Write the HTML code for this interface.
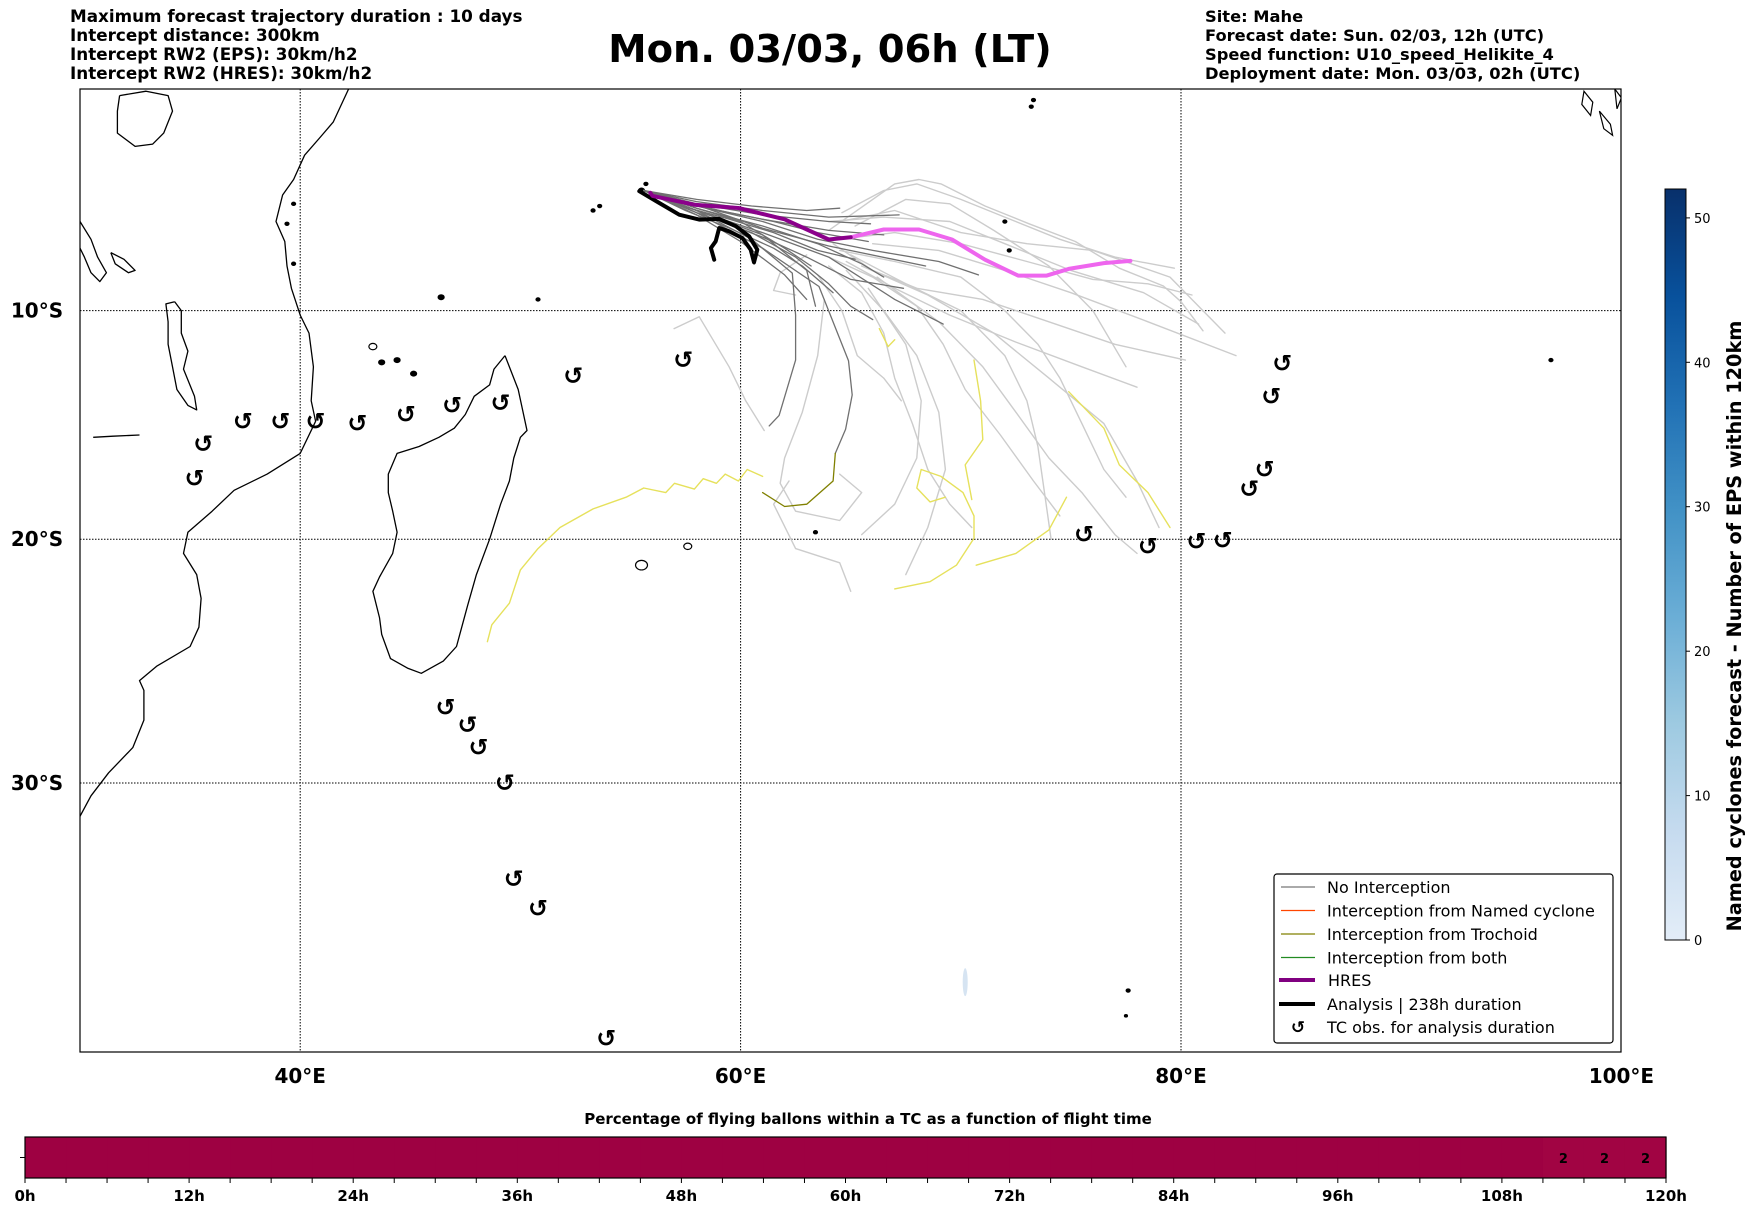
<!DOCTYPE html>
<html><head><meta charset="utf-8">
<style>
html,body{margin:0;padding:0;background:#fff;}
body{width:1752px;height:1213px;overflow:hidden;position:relative;font-family:"DejaVu Sans","Liberation Sans",sans-serif;}
svg{position:absolute;left:0;top:0;}
</style></head>
<body>
<svg id="chart" width="1752" height="1213" viewBox="0 0 1752 1213" xmlns="http://www.w3.org/2000/svg" font-family="DejaVu Sans, Liberation Sans, sans-serif">
  <defs>
    <clipPath id="mapclip"><rect x="80" y="89" width="1541" height="963"/></clipPath>
    <linearGradient id="bluesgrad" x1="0" y1="1" x2="0" y2="0">
      <stop offset="0" stop-color="#e3edf8"/>
      <stop offset="0.143" stop-color="#c6dbef"/>
      <stop offset="0.286" stop-color="#9ecae1"/>
      <stop offset="0.429" stop-color="#6baed6"/>
      <stop offset="0.571" stop-color="#4292c6"/>
      <stop offset="0.714" stop-color="#2171b5"/>
      <stop offset="0.857" stop-color="#08519c"/>
      <stop offset="1" stop-color="#08306b"/>
    </linearGradient>
  </defs>
  <g font-size="16.8" font-weight="bold" fill="#000">
    <text x="70" y="22">Maximum forecast trajectory duration : 10 days</text>
    <text x="70" y="41">Intercept distance: 300km</text>
    <text x="70" y="60">Intercept RW2 (EPS):  30km/h2</text>
    <text x="70" y="79">Intercept RW2 (HRES): 30km/h2</text>
  </g>
  <text x="830" y="62" font-size="38.5" font-weight="bold" text-anchor="middle">Mon. 03/03, 06h (LT)</text>
  <g font-size="16.3" font-weight="bold" fill="#000">
    <text x="1205" y="22">Site: Mahe</text>
    <text x="1205" y="41">Forecast date: Sun. 02/03, 12h (UTC)</text>
    <text x="1205" y="60">Speed function: U10_speed_Helikite_4</text>
    <text x="1205" y="79">Deployment date: Mon. 03/03, 02h (UTC)</text>
  </g>
  <g id="mapg"></g>
  <g>
    <rect x="1665" y="189" width="21" height="751" fill="url(#bluesgrad)" stroke="#000" stroke-width="1"/>
    <g stroke="#000" stroke-width="1">
      <line x1="1686" x2="1690" y1="940" y2="940"/>
      <line x1="1686" x2="1690" y1="795.6" y2="795.6"/>
      <line x1="1686" x2="1690" y1="651.2" y2="651.2"/>
      <line x1="1686" x2="1690" y1="506.7" y2="506.7"/>
      <line x1="1686" x2="1690" y1="362.3" y2="362.3"/>
      <line x1="1686" x2="1690" y1="217.9" y2="217.9"/>
    </g>
    <g font-size="13" fill="#000">
      <text x="1694" y="945">0</text>
      <text x="1694" y="800.6">10</text>
      <text x="1694" y="656.2">20</text>
      <text x="1694" y="511.7">30</text>
      <text x="1694" y="367.3">40</text>
      <text x="1694" y="222.9">50</text>
    </g>
  </g>
  <g id="tbarg"></g>
  <g>
    <rect x="1274" y="874" width="339" height="169" rx="3" fill="#fff" stroke="#000" stroke-width="1.2"/>
    <g font-size="16" fill="#000">
      <line x1="1281" y1="887" x2="1315" y2="887" stroke="#777" stroke-width="1.2"/>
      <text x="1327" y="893">No Interception</text>
      <line x1="1281" y1="910.5" x2="1315" y2="910.5" stroke="#ff4500" stroke-width="1.2"/>
      <text x="1327" y="916.5">Interception from Named cyclone</text>
      <line x1="1281" y1="934" x2="1315" y2="934" stroke="#808000" stroke-width="1.2"/>
      <text x="1327" y="940">Interception from Trochoid</text>
      <line x1="1281" y1="957.5" x2="1315" y2="957.5" stroke="#228b22" stroke-width="1.2"/>
      <text x="1327" y="963.5">Interception from both</text>
      <line x1="1279" y1="980" x2="1315" y2="980" stroke="#800080" stroke-width="4"/>
      <text x="1328" y="986">HRES</text>
      <line x1="1279" y1="1004" x2="1315" y2="1004" stroke="#000" stroke-width="4"/>
      <text x="1327" y="1010">Analysis | 238h duration</text>
      <text x="1298" y="1033" font-size="17" font-weight="bold" text-anchor="middle">↺</text>
      <text x="1327" y="1033">TC obs. for analysis duration</text>
    </g>
  </g>
  <text transform="translate(1741,626) rotate(-90)" font-size="19.3" font-weight="bold" text-anchor="middle">Named cyclones forecast - Number of EPS within 120km</text>
  <text x="868" y="1124" font-size="15" font-weight="bold" text-anchor="middle">Percentage of flying ballons within a TC as a function of flight time</text>
</svg>
<script>
// ---------- data ----------
var lonTicks = [40, 60, 80, 100];
var latTicks = [10, 20, 30];
var africaCoast = [[42.2,0],[41.5,1.5],[40.9,2.2],[40.2,3.0],[39.7,4.1],[39.2,4.8],[38.9,6.0],[39.3,6.9],[39.4,8.0],[39.6,9.0],[40.0,10.2],[40.4,11.0],[40.6,12.5],[40.5,14.0],[40.7,14.9],[40.0,16.3],[38.5,17.2],[37.0,17.9],[36.0,18.8],[34.9,19.7],[34.7,20.6],[35.3,21.5],[35.5,22.5],[35.4,23.7],[35.0,24.5],[33.5,25.3],[32.7,25.9],[32.9,26.3],[32.9,27.5],[32.4,28.6],[31.3,29.6],[30.5,30.5],[30,31.3]];
var madagascar = [[49.3,12.0],[49.9,13.5],[50.3,15.3],[50.0,15.6],[49.7,16.5],[49.5,17.5],[49.1,18.5],[48.6,20.0],[48.0,21.5],[47.6,22.8],[47.1,24.5],[46.5,25.1],[45.5,25.6],[44.9,25.4],[44.1,25.0],[43.7,24.0],[43.6,23.3],[43.3,22.2],[43.6,21.6],[44.2,20.6],[44.4,19.7],[44.2,18.8],[44.0,18.0],[44.0,17.2],[44.4,16.3],[45.4,16.0],[46.3,15.6],[47.0,15.2],[47.5,14.6],[47.9,13.8],[48.6,13.3],[48.8,12.6],[49.3,12.0]];
var lakeMalawi = [[34.3,9.6],[34.6,10.0],[34.6,11.0],[34.9,11.8],[34.7,12.6],[35.2,13.8],[35.3,14.4],[34.9,14.2],[34.4,13.5],[34.2,12.5],[34.0,11.5],[34.0,10.5],[33.9,9.7],[34.3,9.6]];
var lakeTanganyika = [[30,6.0],[30.5,6.8],[30.8,7.6],[31.2,8.3],[30.9,8.7],[30.5,8.3],[30.2,7.6],[30,7.2]];
var lakeVictoria = [[31.8,0.3],[33.0,0.1],[34.0,0.3],[34.2,1.0],[33.8,2.0],[33.3,2.5],[32.5,2.6],[31.7,2.0],[31.7,1.0],[31.8,0.3]];
var lakeRukwa = [[31.4,7.4],[32.0,7.7],[32.5,8.2],[32.2,8.3],[31.6,7.9],[31.4,7.4]];
var cahoraBassa = [[30.6,15.6],[31.5,15.55],[32.7,15.5]];
var islands = [[43.3,11.6,4],[43.7,12.3,3],[44.4,12.2,3],[45.15,12.8,3],[55.5,4.6,3],[55.7,4.3,2],[53.3,5.5,2],[53.6,5.3,2],[50.8,9.5,2],[46.4,9.4,3],[57.6,20.3,4],[55.5,21.1,6],[63.4,19.7,2],[72.0,6.0,2],[72.2,7.3,2],[73.2,0.8,2],[73.3,0.5,2],[96.8,12.2,2],[77.6,37.8,2],[77.5,38.7,1.5],[39.4,6.1,2],[39.7,5.2,2],[39.7,7.9,2]];
var sumatraIslands = [[[98.3,0.1],[98.7,0.6],[98.6,1.2],[98.2,0.7]],[[99.0,1.0],[99.5,1.6],[99.6,2.1],[99.2,1.8]],[[99.7,0.0],[100,0.4],[99.8,0.9]]];
var tcLon = [35.2,35.6,37.4,39.1,40.7,42.6,44.8,46.9,49.1,52.4,57.4,46.6,47.6,48.1,49.3,49.7,50.8,53.9,75.6,78.5,80.7,81.9,83.1,83.8,84.1,84.6];
var tcLat = [17.4,15.9,14.9,14.9,14.9,15.0,14.6,14.2,14.1,12.9,12.2,27.0,27.7,28.6,30.0,33.7,34.8,39.5,19.8,20.3,20.1,20.05,17.85,17.0,13.8,12.35];
var hresTrack = [[55.9,4.7],[56.0,4.84],[57.9,5.24],[59.9,5.39],[62.0,5.9],[64.0,6.81],[65.0,6.71]];
var hresTrackLate = [[65.0,6.71],[66.5,6.36],[68.1,6.36],[69.6,6.81],[71.1,7.72],[72.6,8.43],[73.9,8.43],[74.9,8.13],[76.5,7.87],[77.7,7.77]];
var analysisTrack = [[55.4,4.63],[56.3,5.16],[57.21,5.69],[58.12,5.91],[59.03,5.88],[59.78,6.21],[60.39,6.67],[60.76,7.27],[60.61,7.84],[60.46,7.27],[60.08,6.74],[59.48,6.44],[59.03,6.29],[58.87,6.89],[58.65,7.19],[58.8,7.72]];
var darkTracks = [
 [[55.6,4.6],[58,5.1],[61,5.5],[64,5.8],[67.2,5.7]],
 [[55.6,4.6],[58,5.3],[61,5.9],[64,6.4],[66.5,6.6]],
 [[55.6,4.6],[58,5.4],[61,6.2],[63.5,7.0],[65.5,7.9],[66.5,8.5]],
 [[55.6,4.6],[58,5.6],[60.5,6.5],[62.5,7.6],[64,8.8],[65,9.8],[66,10.4]],
 [[55.6,4.6],[58,5.5],[61,6.6],[63,8.2],[63.4,9.8]],
 [[55.6,4.6],[58,5.3],[61,6.0],[63.5,6.8],[66,7.3],[69,7.8],[70.8,8.4]],
 [[55.6,4.6],[58,5.5],[60.5,6.8],[62.35,8.32],[62.5,10.2],[62.5,12.2],[61.75,14.64],[61.3,15.1]],
 [[55.6,4.6],[58,5.6],[61,7.2],[63.56,8.92],[64.9,12.23],[65.07,13.74],[64.77,15.25],[64.3,16.3]],
 [[55.6,4.6],[58,5.5],[61,6.5],[64,7.6],[67,9.5],[69.2,10.6]],
 [[55.6,4.6],[58,5.2],[61,5.7],[64,6.0],[65.9,6.1]],
 [[55.6,4.6],[58,5.6],[61,6.7],[63,7.6],[65,8.6],[67.4,9.0]],
 [[55.6,4.6],[58,5.4],[60,6.0],[62,7.2],[63.2,8.0]],
 [[55.6,4.6],[58,5.0],[60.5,5.3],[63,5.5],[64.5,5.4]],
 [[55.6,4.6],[58,5.7],[60,6.9],[62,8.4],[63,9.5]],
 [[55.6,4.6],[58,5.25],[61,6.3],[64,7.1],[68.4,8.0]],
 [[55.6,4.6],[57.5,5.35],[59.5,5.9],[61.5,6.5],[63.5,7.3],[65.2,7.7]],
 [[55.6,4.6],[57.5,5.15],[59.5,5.6],[61.5,6.0],[63.5,6.5],[65.8,6.9]],
 [[55.6,4.6],[57.5,5.5],[59.5,6.3],[61.5,7.2],[62.8,8.0],[64.2,9.2]]
];
var olivePath = [[64.3,16.3],[64.2,17.5],[63.0,18.5],[62.0,18.6],[61.0,18.0]];
var lightTracks = [
 [[64.0,6.4],[67.0,4.3],[68.1,4.1],[69.1,4.3],[71.1,5.3],[73.1,6.1],[75.2,6.9],[77.2,8.1],[79.2,8.9],[80.0,9.6],[81.0,10.9]],
 [[64.5,6.8],[67,6.5],[70,7.0],[73,7.8],[76,8.6],[78.5,8.8],[80.5,9.3]],
 [[64.5,7.3],[67,7.8],[70,8.5],[72,10],[73.5,11.5],[74.5,13],[75.5,15],[76.5,17],[77.5,18.2]],
 [[64,7.6],[66,8.5],[68,9.8],[69.2,11.5],[70.2,13.5],[71.8,15.5],[73.3,17.5],[74.5,19]],
 [[64,8],[65.5,9.2],[66.5,11],[67,13],[67.8,15],[68.5,17],[69.5,18.5],[70.5,19.5]],
 [[63.5,8.4],[64.6,10],[65.3,12],[66.5,13],[67.3,14.0]],
 [[62.2,17.5],[61.5,18.5],[62.5,20.4],[64.5,21.0],[65,22.2]],
 [[56.98,10.8],[58.12,10.27],[59.48,12.5],[60.23,14.0],[61.07,15.3]],
 [[64.5,6.0],[67,5.5],[70,6.5],[73,7.0],[76,7.3],[79.5,8.5],[82,11]],
 [[64.2,7.0],[66,8.2],[68,9.0],[71,9.5],[74,10.5],[77,11.5],[80.2,12.2]],
 [[65,7.5],[67.5,8.8],[70,10],[72,12],[73,14],[73.5,16],[73.8,18],[74.1,20.0]],
 [[64.8,8.2],[66.5,10],[68,12],[69,14.5],[69.3,17],[68.5,19.5],[67.5,21.5]],
 [[63,7.5],[61.8,8.3],[61.5,9.1],[62.5,9.3]],
 [[66,7.0],[69,7.3],[72,8.2],[75,9.2],[78.5,10.5],[82.5,12.0]],
 [[65.5,8.0],[68.5,9.3],[71.5,11],[74,13],[76.5,15],[78,17.5],[79,19.5]],
 [[63.8,9.5],[63.5,12.0],[62.8,14.5],[62,16.5],[61.8,17.6],[62.5,18.8],[64.5,19.2],[65.5,18.0],[64.5,17.2]],
 [[64.6,5.6],[66.5,4.6],[68,4.3],[70,5.0],[72,5.8],[74.5,6.8],[77,7.6],[79.7,8.1]],
 [[66.2,8.5],[69,10.5],[71,12.5],[72.5,14.5],[74.0,16.5],[75.5,18],[77,19.8],[78.0,20.6]],
 [[65.8,9],[67.5,11.5],[68.2,14],[68.0,16.5],[67.0,18.5],[65.5,19.8]],
 [[64,6.0],[66.5,5.8],[69.5,6.0],[72,7.0],[75,8.2],[78.3,9.2],[80.8,10.6]],
 [[65.2,6.2],[67.5,5.0],[69.5,5.2],[71.5,6.4],[74,8.0],[76,10.0],[77.5,12.5]],
 [[64.8,7.8],[67,9.0],[69.5,10.2],[72.5,11.4],[75.5,12.5],[78,13.4]]
];
var yellowTracks = [
 [[48.5,24.3],[48.7,23.6],[49.5,22.7],[50.0,21.3],[50.8,20.4],[51.8,19.5],[53.3,18.7],[54.8,18.2],[55.6,17.8],[56.6,18.0],[57.0,17.6],[57.9,17.85],[58.3,17.4],[58.9,17.6],[59.3,17.2],[59.9,17.5],[60.3,17.0],[61.0,17.3]],
 [[67.0,22.1],[68.6,21.8],[69.8,21.1],[70.6,19.96],[70.6,19.0],[70.1,18.0],[69.1,17.3],[68.2,17.0],[68.0,17.8],[68.6,18.4],[69.3,18.2]],
 [[70.6,12.2],[70.9,14],[71.0,15.7],[70.2,16.8],[70.5,18.3]],
 [[74.9,13.6],[76.5,15.2],[77.2,16.8],[78.5,18.0],[79.5,19.5]],
 [[70.7,21.1],[72.5,20.6],[74.0,19.6],[74.8,18.2]],
 [[66.3,10.8],[66.6,11.4],[66.7,11.6],[67.0,11.3]]
];
var hourTicks = [0,12,24,36,48,60,72,84,96,108,120];
var binStarts = [0,3,6,9,12,15,18,21,24,27,30,33,36,39,42,45,48,51,54,57,60,63,66,69,72,75,78,81,84,87,90,93,96,99,102,105,108,111,114,117];
var binPct = [0,0,0,0,0,0,0,0,0,0,0,0,0,0,0,0,0,0,0,0,0,0,0,0,0,0,0,0,0,0,0,0,0,0,0,0,0,2,2,2];

var SVGNS='http://www.w3.org/2000/svg';
var PX=22.02;
function X(lon){return 80+(lon-30)*PX;}
function merc(lat){return Math.log(Math.tan(Math.PI/4+lat*Math.PI/360));}
function Y(lat){return 89+merc(lat)*1263.4;}
function mk(tag,attrs,parent){var e=document.createElementNS(SVGNS,tag);for(var k in attrs){e.setAttribute(k,String(attrs[k]));}parent.appendChild(e);return e;}
function pts(arr){return arr.map(function(p){return X(p[0]).toFixed(1)+','+Y(p[1]).toFixed(1);}).join(' ');}

// ---------- map ----------
try{
var mapG=document.getElementById('mapg');
var inner=mk('g',{'clip-path':'url(#mapclip)'},mapG);


lonTicks.forEach(function(l){var g=mk('line',{x1:X(l),x2:X(l),y1:89,y2:1052,stroke:'#000','stroke-width':1,'stroke-dasharray':'1.5,1.5'},inner);

});
latTicks.forEach(function(l){var g=mk('line',{x1:80,x2:1621,y1:Y(l),y2:Y(l),stroke:'#000','stroke-width':1,'stroke-dasharray':'1.5,1.5'},inner);

});
[[africaCoast,'africa-coastline'],[madagascar,'madagascar-coastline'],[lakeMalawi,'lake-malawi'],[lakeTanganyika,'lake-tanganyika'],[lakeVictoria,'lake-victoria'],[lakeRukwa,'lake-rukwa'],[cahoraBassa,'lake-cahora-bassa']].forEach(function(o){
 var p=mk('polyline',{points:pts(o[0]),fill:'none',stroke:'#000','stroke-width':1.3,'stroke-linejoin':'round'},inner);
 
 
});
sumatraIslands.forEach(function(a){var p=mk('polygon',{points:pts(a),fill:'none',stroke:'#000','stroke-width':1.2},inner);

});
islands.forEach(function(i){var c=mk('ellipse',{cx:X(i[0]),cy:Y(i[1]),rx:i[2],ry:i[2]*0.8,fill:i[2]>=4?'none':'#000',stroke:'#000','stroke-width':1.2},inner);

});
var blob=mk('ellipse',{cx:X(70.2),cy:Y(37.5),rx:2.5,ry:14,fill:'#d6e4f2'},inner);


function track(a,color,w,name){var p=mk('polyline',{points:pts(a),fill:'none',stroke:color,'stroke-width':w,'stroke-linejoin':'round','stroke-linecap':'round'},inner);

}
lightTracks.forEach(function(t){track(t,'#cccccc',1.4,'eps-trajectory-late');});
yellowTracks.forEach(function(t){track(t,'#e6e15c',1.4,'eps-trajectory-after-interception');});
darkTracks.forEach(function(t){track(t,'#707070',1.3,'eps-trajectory');});
track(olivePath,'#808000',1.3,'trochoid-interception-trajectory');
track(analysisTrack,'#000',4,'analysis-trajectory');
track(hresTrackLate,'#ee66ee',4,'hres-trajectory-late');
track(hresTrack,'#8b008b',4,'hres-trajectory');
tcLon.forEach(function(lon,i){var t=mk('text',{x:X(lon),y:Y(tcLat[i])+8,'font-size':24,'font-weight':'bold','text-anchor':'middle'},inner);
t.textContent='↺';

});
var fr=mk('rect',{x:80,y:89,width:1541,height:963,fill:'none',stroke:'#000','stroke-width':1.2},mapG);


lonTicks.forEach(function(l){var t=mk('text',{x:X(l),y:1083,'font-size':20,'font-weight':'bold','text-anchor':'middle'},mapG);
t.textContent=l+'°E';

});
latTicks.forEach(function(l){var t=mk('text',{x:37,y:Y(l)+7,'font-size':20,'font-weight':'bold','text-anchor':'middle'},mapG);
t.textContent=l+'°S';

});
}catch(e){console.log(e);}

// ---------- time bar ----------
try{
var tbG=document.getElementById('tbarg');
var tbX0=25,tbX1=1666,tbY=1137,tbH=41;
function tX(h){return tbX0+(h/120)*(tbX1-tbX0);}
function spectral(p){var f=Math.min(p/40,1);var a=[158,1,66],b=[213,62,79];
 return 'rgb('+Math.round(a[0]+(b[0]-a[0])*f)+','+Math.round(a[1]+(b[1]-a[1])*f)+','+Math.round(a[2]+(b[2]-a[2])*f)+')';}
binStarts.forEach(function(h,i){var r=mk('rect',{x:tX(h),y:tbY,width:tX(h+3)-tX(h)+0.6,height:tbH,fill:spectral(binPct[i])},tbG);


if(binPct[i]>0){var t=mk('text',{x:(tX(h)+tX(h+3))/2,y:tbY+26,'font-size':13,'font-weight':'bold','text-anchor':'middle'},tbG);
t.textContent=String(binPct[i]);

}});
var tbf=mk('rect',{x:tbX0,y:tbY,width:tbX1-tbX0,height:tbH,fill:'none',stroke:'#000','stroke-width':1.2},tbG);


mk('line',{x1:tbX0-5,x2:tbX0,y1:tbY+tbH/2,y2:tbY+tbH/2,stroke:'#000'},tbG);
for(var h=0;h<=120;h+=3){mk('line',{x1:tX(h),x2:tX(h),y1:tbY+tbH,y2:tbY+tbH+5,stroke:'#000'},tbG);}
hourTicks.forEach(function(hh){var t=mk('text',{x:tX(hh),y:1201,'font-size':15,'font-weight':'bold','text-anchor':'middle'},tbG);
t.textContent=hh+'h';

});
}catch(e){console.log(e);}
</script>
</body></html>
